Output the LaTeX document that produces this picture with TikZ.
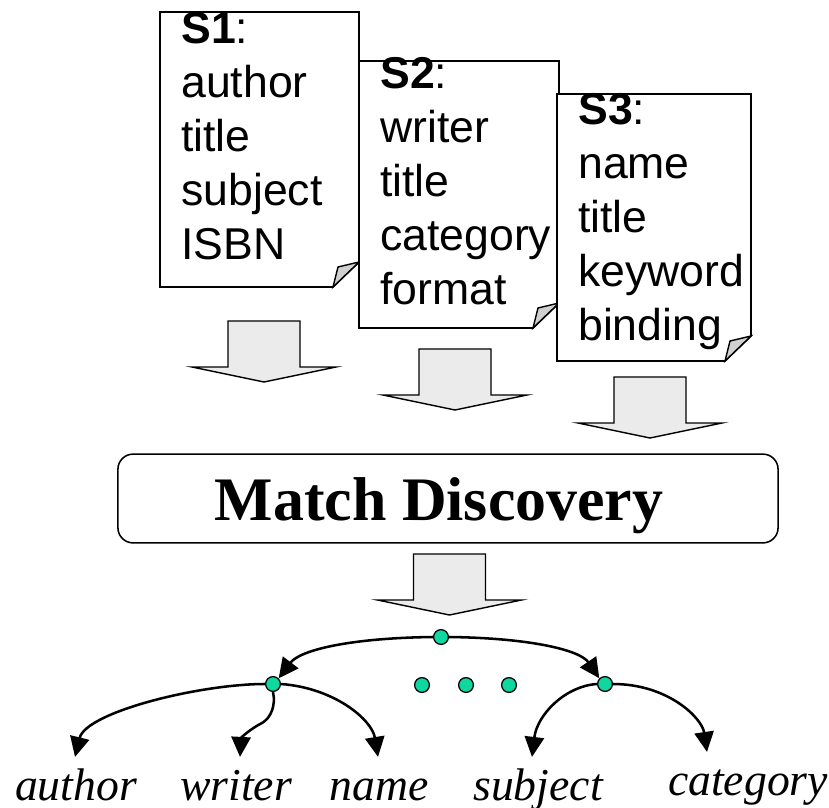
\documentclass[tikz,border=0pt]{standalone}
\usepackage{fontspec}
\setmainfont{Liberation Serif}
\setsansfont{Liberation Sans}
\usetikzlibrary{arrows.meta,calc}

\definecolor{dotgreen}{RGB}{16,214,160}
\definecolor{arrowgray}{RGB}{235,235,235}
\definecolor{foldgray}{RGB}{208,208,208}

\begin{document}
\begin{tikzpicture}[x=0.025cm, y=-0.025cm, line join=miter,
    doctext/.style={anchor=base west, align=left, inner sep=0pt,
      font=\sffamily\fontsize{31.7}{38.4}\selectfont},
    leaf/.style={anchor=base, inner sep=0pt, text height=1.07cm, text depth=0.2cm,
      font=\itshape\fontsize{32.5}{38}\selectfont},
    treedot/.style={circle, draw, line width=0.9pt, fill=dotgreen,
      minimum size=0.37cm, inner sep=0pt},
    treeedge/.style={line width=1.8pt, -{Triangle[length=0.5cm, width=0.48cm]}}]
  \useasboundingbox (0,0) rectangle (829,808);

  % source schemas: sheets with a folded corner
  \foreach \l/\t/\r/\b in {160/12/359/287, 359/61/559/328, 557/94/751/361} {
    \draw[line width=1.2pt, fill=white] (\l,\t) -- (\r,\t) -- (\r,{\b-25})
      -- ({\r-26},\b) -- (\l,\b) -- cycle;
    \draw[line width=1pt, fill=foldgray] ({\r-26},\b) -- ({\r-21},{\b-20})
      -- (\r,{\b-25}) -- cycle;
  }
  % the base anchor sits on the last line
  \node[doctext] (s1) at (181,259) {\textbf{S1}:\\author\\title\\subject\\ISBN};
  \node[doctext] (s2) at (380,304) {\textbf{S2}:\\writer\\title\\category\\format};
  \node[doctext] (s3) at (578,340) {\textbf{S3}:\\name\\title\\keyword\\binding};

  % block arrows
  \foreach \cx/\ty in {264/321, 455/349, 650/377, 449.5/554} {
    \draw[line width=1pt, fill=arrowgray] ({\cx-36},\ty) -- ++(72,0) -- ++(0,46)
      -- ++(36,0) -- ++(-72,15) -- ++(-72,-15) -- ++(36,0) -- cycle;
  }

  \node[draw, line width=1.1pt, rounded corners=0.38cm, minimum width=16.5cm,
    minimum height=2.22cm] (match) at (448,498.5) {};
  \node[anchor=base, inner sep=0pt, font=\bfseries\fontsize{44}{50}\selectfont]
    (matchlabel) at (439,520) {Match Discovery};

  % match tree
  \node[treedot] (root) at (441,637) {};
  \node[treedot] (lchild) at (273,684) {};
  \node[treedot] (rchild) at (605,684) {};
  \foreach \x [count=\i] in {422,466,509}
    \node[treedot] (more\i) at (\x,685) {};

  \node[leaf] (author) at (76,800) {author};
  \node[leaf] (writer) at (236,800) {writer};
  \node[leaf] (name) at (379,800) {name};
  \node[leaf] (subject) at (538,800) {subject};
  \node[leaf] (category) at (748,795) {category};

  \draw[treeedge] (root.west) .. controls (350,638) and (300,650) .. (lchild.north east);
  \draw[treeedge] (root.east) .. controls (530,638) and (580,650) .. (rchild.north west);
  \draw[treeedge] (lchild.west) .. controls (200,684) and (86,712) .. ($(author.north)+(-1,0)$);
  \draw[treeedge] (lchild.south) .. controls (276,705) and (271,718) .. (262,723)
    .. controls (250,729) and (241,738) .. ($(writer.north)+(4,0)$);
  \draw[treeedge] (lchild.east) .. controls (335,688) and (372,720) .. ($(name.north)+(-1,0)$);
  \draw[treeedge] (rchild.west) .. controls (565,686) and (537,715) .. ($(subject.north)+(-6,0)$);
  \draw[treeedge] (rchild.east) .. controls (668,684) and (702,718) .. ($(category.north)+(-41,0)$);
\end{tikzpicture}
\end{document}
